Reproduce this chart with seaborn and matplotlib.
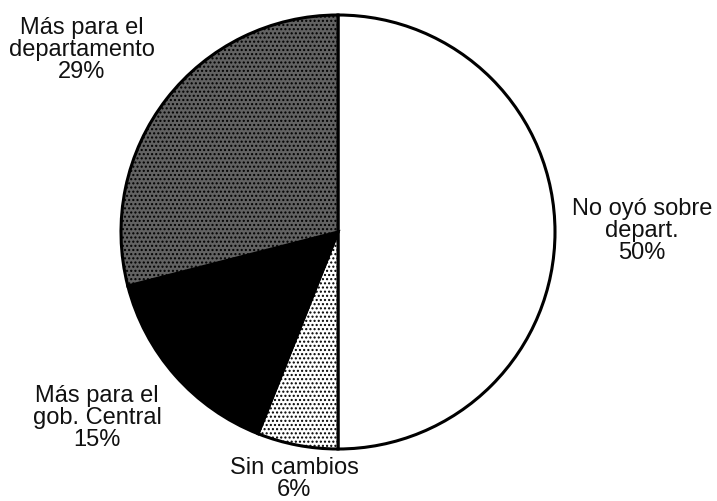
import matplotlib.pyplot as plt
import seaborn as sns

# slices, clockwise from 12 o'clock
categories = ["No oyó sobre\ndepart.", "Sin cambios", "Más para el\ngob. Central", "Más para el\ndepartamento"]
shares = [50, 6, 15, 29]

# fill styles per slice
fills = ["white", "white", "black", "#626262"]
hatches = ["", "....", "", "...."]

sns.set_theme(style="white")
plt.rcParams["font.family"] = ["Liberation Sans", "DejaVu Sans"]
plt.rcParams["hatch.linewidth"] = 1.0

W, H = 717, 502
fig = plt.figure(figsize=(W / 100, H / 100), dpi=100)
ax = fig.add_axes([0, 0, 1, 1])

cx, cy, r = 338, H - 233, 217
wedges, _ = ax.pie(
    shares,
    startangle=90,
    counterclock=False,
    colors=fills,
    center=(cx, cy),
    radius=r,
    frame=True,
    wedgeprops=dict(edgecolor="black", linewidth=2.2),
)
for w, h in zip(wedges, hatches):
    w.set_hatch(h)
ax.set_xlim(0, W)
ax.set_ylim(0, H)
ax.set_aspect("equal")
ax.axis("off")

# label anchor points (pixels from top-left)
label_xy = [(642, 231), (294, 479), (97, 418), (82, 50)]
for name, pct, (lx, ly) in zip(categories, shares, label_xy):
    ax.text(lx, H - ly, f"{name}\n{pct}%", ha="center", va="center",
            fontsize=17, linespacing=1.0, color="#111111")

fig.savefig("out.png", dpi=100)
